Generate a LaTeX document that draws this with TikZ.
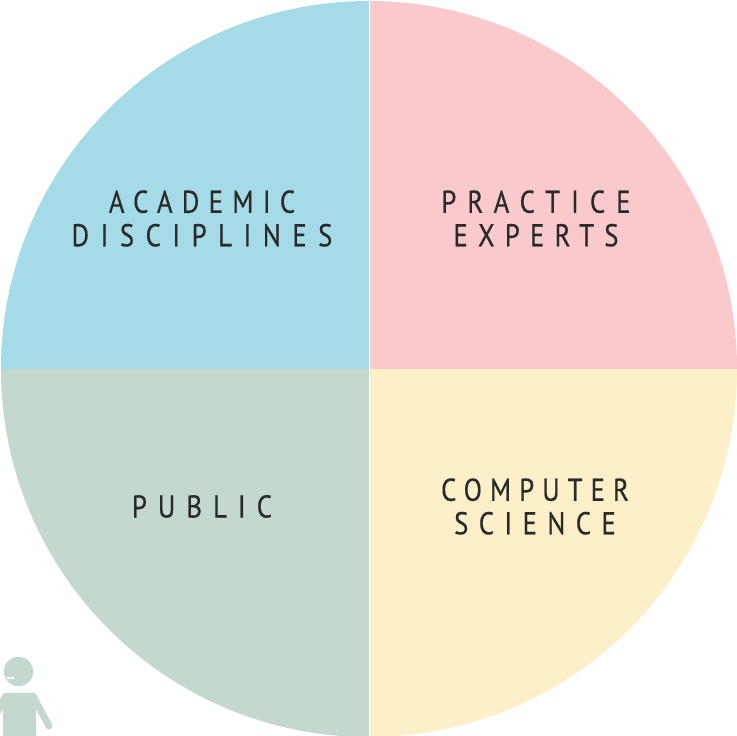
\documentclass[tikz,border=0pt]{standalone}
\usepackage{fontspec}
\newfontfamily\labelfont[FakeStretch=0.85, FakeBold=0.4]{PT Sans}
\newcommand{\tracked}[2]{{\addfontfeature{LetterSpace=#1}#2}}
\definecolor{academicblue}{HTML}{A5DBE6}
\definecolor{practicepink}{HTML}{FAC9CC}
\definecolor{publicgreen}{HTML}{C3D9CE}
\definecolor{computeryellow}{HTML}{FDEFC8}
\definecolor{labelgray}{HTML}{2A2A2A}
\tikzset{
    sectorlabel/.style={text=labelgray, align=center, inner sep=0pt, font=\labelfont\fontsize{31.5}{33.5}\selectfont},
    personpart/.style={publicgreen, line width=7pt, line cap=round},
}
\begin{document}
\begin{tikzpicture}[x=1pt, y=1pt]
    \useasboundingbox (0,0) rectangle (737,736);

    % Four quarters of the disc
    \begin{scope}
        \clip (0,0) rectangle (737,736);
        \fill[computeryellow] (369,367) -- (369,-1) arc (-90:0:368) -- cycle;
        \fill[publicgreen] (369,367) -- (1,367) arc (180:270:368) -- cycle;
        \fill[academicblue] (369,367) -- (369,735) arc (90:180:368) -- cycle;
        \fill[practicepink] (369,367) -- (737,367) arc (0:90:368) -- cycle;
        \draw[white, line width=0.8pt] (369,735) -- (369,-1);
    \end{scope}

    % Labels
    \node[sectorlabel] (academic) at (202,517.5) {\tracked{29.5}{ACADEMIC}\\\tracked{36.5}{DISCIPLINES}};
    \node[sectorlabel] (practice) at (536,517.5) {\tracked{35}{PRACTICE}\\\tracked{32.5}{EXPERTS}};
    \node[sectorlabel] (public) at (202,229.5) {\tracked{35}{PUBLIC}};
    \node[sectorlabel] (computer) at (535,229.5) {\tracked{25.5}{COMPUTER}\\\tracked{33}{SCIENCE}};

    % Person in the corner
    \fill[publicgreen] (18.5,64.5) circle (14.7);
    \draw[white, line width=1.5pt] (7,58) -- (14,58);
    \fill[publicgreen, rounded corners=5pt] (3,-5) -- (3,43) -- (36,43) -- (36,-5) -- cycle;
    \draw[personpart] (33,40) -- (49,10);
    \draw[personpart] (6,40) -- (-6,18);
\end{tikzpicture}
\end{document}
